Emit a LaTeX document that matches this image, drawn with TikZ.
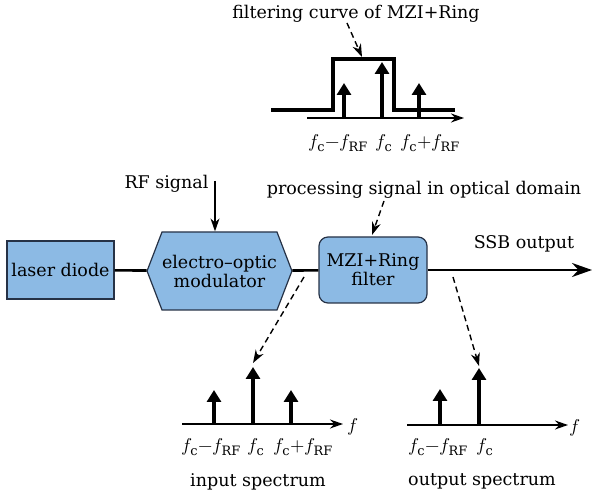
\documentclass[tikz,border=0pt]{standalone}
\usepackage{fontspec}
\usepackage{unicode-math}
\setmainfont{DejaVu Serif}
\usetikzlibrary{arrows.meta,shapes.symbols}
\definecolor{boxblue}{RGB}{140,186,228}
\definecolor{boxedge}{RGB}{38,50,70}
\newcommand{\figfont}{\fontsize{17.5pt}{19pt}\selectfont}
\newcommand{\freqfont}{\fontsize{18.5pt}{20pt}\selectfont}
\tikzset{
	blockbox/.style={draw=boxedge,line width=1.2pt,fill=boxblue,align=center,inner sep=0pt},
	freqlabel/.style={font=\freqfont,inner sep=1pt},
	mainline/.style={line width=2.6pt},
	axisline/.style={line width=1.6pt,-{Stealth[length=13pt,width=9pt]}},
	specarrow/.style={line width=4.5pt,-{Triangle[length=12pt,width=14pt]}},
	pointer/.style={line width=1.4pt,dash pattern=on 6pt off 4pt,-{Stealth[length=13pt,width=9pt]}}
}
\begin{document}
\begin{tikzpicture}[x=1pt,y=-1pt,font=\figfont]
	\useasboundingbox (0,0) rectangle (603,494);
	
	% Blocks
	\node[blockbox,minimum width=107pt,minimum height=58pt] (laser) at (60.5,270) {laser diode};
	\node[blockbox,shape=signal,signal to=east and west,signal pointer angle=138,minimum width=143pt,minimum height=78pt] (mod) at (219.5,271) {electro--optic\\modulator};
	\node[blockbox,rounded corners=9pt,minimum width=108pt,minimum height=66pt] (filt) at (373,270) {MZI+Ring\\filter};
	\coordinate (out) at (592,270);
	
	% Main line
	\draw[mainline] (laser) -- (mod);
	\draw[mainline] (mod) -- (filt);
	\draw[mainline,-{Stealth[length=20pt,width=14pt]}] (filt) -- (out);
	
	% Text Node
	\node[anchor=east] (rf) at (212,184) {RF signal};
	\node (proc) at (424,190) {processing signal in optical domain};
	\node (ssb) at (524,244) {SSB output};
	\coordinate (rfin) at (215,181);
	\draw[line width=1.4pt,-{Stealth[length=13pt,width=9pt]}] (rfin) -- (mod.north -| rfin);
	\coordinate (procin) at (384,201);
	\draw[pointer] (procin) -- (372,235);
	
	% Filtering curve
	\node (title) at (356,14) {filtering curve of MZI+Ring};
	\coordinate (titlept) at (347,23);
	\coordinate (curvetop) at (362,57);
	\draw[pointer] (titlept) -- (curvetop);
	\draw[line width=4pt,line join=miter] (271,110) -- (333,110) -- (333,59) -- (394,59) -- (394,110) -- (455,110);
	\draw[axisline] (307,118) -- (464,118);
	\foreach \xx/\yy in {344/83,382/62,419/83}
		\draw[specarrow] (\xx,118) -- (\xx,\yy);
	\node[freqlabel] (tl) at (338,143) {$f_{\mathrm{c}}{-}f_{\mathrm{RF}}$};
	\node[freqlabel] (tc) at (384,143) {$f_{\mathrm{c}}$};
	\node[freqlabel] (tr) at (430,143) {$f_{\mathrm{c}}{+}f_{\mathrm{RF}}$};
	
	% Input spectrum
	\coordinate (modout) at (304,277);
	\coordinate (inpeak) at (253,363);
	\draw[pointer] (modout) -- (inpeak);
	\draw[axisline] (182,424) -- (343,424);
	\node[freqlabel] (inf) at (353,427) {$f$};
	\foreach \xx/\yy in {214/390,253/367,291/390}
		\draw[specarrow] (\xx,424) -- (\xx,\yy);
	\node[freqlabel] (il) at (211,447) {$f_{\mathrm{c}}{-}f_{\mathrm{RF}}$};
	\node[freqlabel] (ic) at (256,447) {$f_{\mathrm{c}}$};
	\node[freqlabel] (ir) at (303,447) {$f_{\mathrm{c}}{+}f_{\mathrm{RF}}$};
	\node (inlabel) at (258,482) {input spectrum};
	
	% Output spectrum
	\coordinate (filtout) at (453,277);
	\coordinate (outpeak) at (479,366);
	\draw[pointer] (filtout) -- (outpeak);
	\draw[axisline] (407,425) -- (568,425);
	\node[freqlabel] (outf) at (575,428) {$f$};
	\foreach \xx/\yy in {440/389,479/368}
		\draw[specarrow] (\xx,425) -- (\xx,\yy);
	\node[freqlabel] (ol) at (438,447) {$f_{\mathrm{c}}{-}f_{\mathrm{RF}}$};
	\node[freqlabel] (oc) at (485,447) {$f_{\mathrm{c}}$};
	\node (outlabel) at (482,481) {output spectrum};
\end{tikzpicture}
\end{document}
